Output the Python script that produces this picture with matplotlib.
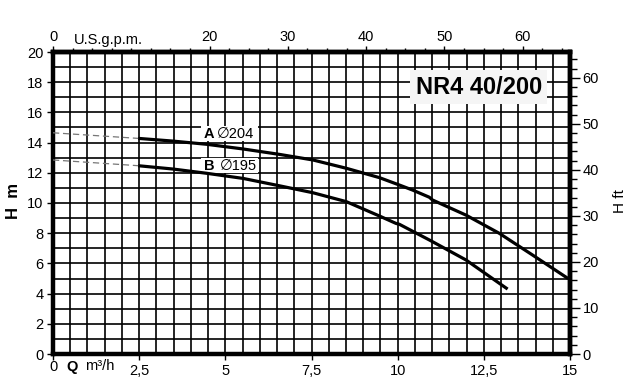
import numpy as np
import matplotlib
matplotlib.use("Agg")
import matplotlib.pyplot as plt
from matplotlib.ticker import MultipleLocator
from matplotlib.patches import Rectangle

plt.rcParams['font.family'] = ['Liberation Sans', 'DejaVu Sans']

# Data (Q in m3/h, H in m)
qa = [2.47, 3.48, 4.45, 5.51, 6.57, 7.54, 8.51, 9.47, 10.05, 10.43, 10.92, 11.01,
      11.98, 12.95, 13.91, 14.95]
ha = [14.28, 14.10, 13.89, 13.58, 13.22, 12.85, 12.30, 11.68, 11.19, 10.86, 10.38, 10.20,
      9.20, 7.99, 6.56, 4.99]
qb = [2.47, 3.48, 4.45, 5.51, 6.57, 7.54, 8.51, 9.47, 9.95, 10.05, 10.92, 11.01,
      11.98, 12.95, 13.19]
hb = [12.47, 12.25, 11.97, 11.63, 11.14, 10.68, 10.09, 9.14, 8.65, 8.59, 7.55, 7.44,
      6.23, 4.68, 4.30]
qa_dash = [0.0, 2.47]
ha_dash = [14.65, 14.28]
qb_dash = [0.0, 2.47]
hb_dash = [12.85, 12.47]

title = "NR4 40/200"
label_a = ("A", "\u2205204")
label_b = ("B", "\u2205195")
bottom_ticks = [0, 2.5, 5, 7.5, 10, 12.5, 15]
bottom_labels = ["0", "2,5", "5", "7,5", "10", "12,5", "15"]
left_ticks = list(range(0, 21, 2))
top_ticks = [0, 20, 30, 40, 50, 60]
right_ticks = [0, 10, 20, 30, 40, 50, 60]

GPM = 4.4029
FT = 3.28084

W, H = 638, 378
fig = plt.figure(figsize=(W/100, H/100), dpi=100)
ax = fig.add_axes([53/W, 1-354/H, (570-53)/W, (354-52)/H])
ax.set_xlim(0, 15)
ax.set_ylim(0, 20)

ax.xaxis.set_minor_locator(MultipleLocator(0.5))
ax.yaxis.set_minor_locator(MultipleLocator(1))
ax.grid(which='both', color='black', linewidth=1.2)
ax.set_axisbelow(True)

for s in ax.spines.values():
    s.set_linewidth(3.2)

ax.set_xticks(bottom_ticks)
ax.set_xticklabels([""] + bottom_labels[1:])
ax.set_yticks(left_ticks)
ax.tick_params(which='major', direction='out', length=4, width=1, labelsize=10.5, pad=3)
ax.tick_params(which='minor', length=0)

# curves
ax.plot(qa, ha, color='black', lw=2.3, solid_capstyle='butt', solid_joinstyle='round', zorder=5)
ax.plot(qb, hb, color='black', lw=2.3, solid_capstyle='butt', solid_joinstyle='round', zorder=5)
ax.plot(qa_dash, ha_dash, color='#777777', lw=0.9, ls=(0, (5, 3)), zorder=5)
ax.plot(qb_dash, hb_dash, color='#777777', lw=0.9, ls=(0, (5, 3)), zorder=5)

# curve labels: white backing rectangle, then bold letter + regular diameter text
for (letter, dia), y, gap in ((label_a, 14.58, 4.75), (label_b, 12.48, 4.85)):
    ax.add_patch(Rectangle((4.29, y - 0.5), 1.65, 1.0, facecolor='white',
                           edgecolor='none', zorder=3.9))
    ax.text(4.38, y, letter, fontsize=10.5, fontweight='bold', va='center', ha='left', zorder=4.1)
    ax.text(gap, y, dia, fontsize=10.5, va='center', ha='left', zorder=4.1)

# title
ax.text(12.35, 17.68, title, fontsize=17, fontweight='bold', ha='center', va='center', zorder=6,
        bbox=dict(facecolor='#f5f5f5', edgecolor='none', pad=4))

# top axis (US gpm)
top = ax.secondary_xaxis('top', functions=(lambda q: q*GPM, lambda g: g/GPM))
top.set_xticks(top_ticks)
top.xaxis.set_minor_locator(MultipleLocator(2.5))
top.tick_params(which='major', direction='out', length=4, width=1, labelsize=10.5, pad=2)
top.tick_params(which='minor', direction='out', length=3, width=1)
top.spines['top'].set_linewidth(3.2)

# right axis (ft)
right = ax.secondary_yaxis('right', functions=(lambda h: h*FT, lambda f: f/FT))
right.set_yticks(right_ticks)
right.yaxis.set_minor_locator(MultipleLocator(2))
right.tick_params(which='major', direction='out', length=7, width=1, labelsize=10.5, pad=2)
right.tick_params(which='minor', direction='out', length=5, width=1)
right.spines['right'].set_linewidth(3.2)

# extra texts
fig.text(53/W, 1-367/H, "0", fontsize=10.5, ha='center', va='center')
fig.text(72/W, 1-367/H, "Q", fontsize=10.5, fontweight='bold', ha='center', va='center')
fig.text(100/W, 1-366/H, "m\u00b3/h", fontsize=10.5, ha='center', va='center')
fig.text(108/W, 1-40/H, "U.S.g.p.m.", fontsize=10.5, ha='center', va='center')
fig.text(14/W, 1-201/H, "H  m", fontsize=12, fontweight='bold', rotation=90, ha='center', va='center')
fig.text(620/W, 1-201/H, "H ft", fontsize=11, rotation=90, ha='center', va='center')

fig.savefig("out.png", dpi=100)
